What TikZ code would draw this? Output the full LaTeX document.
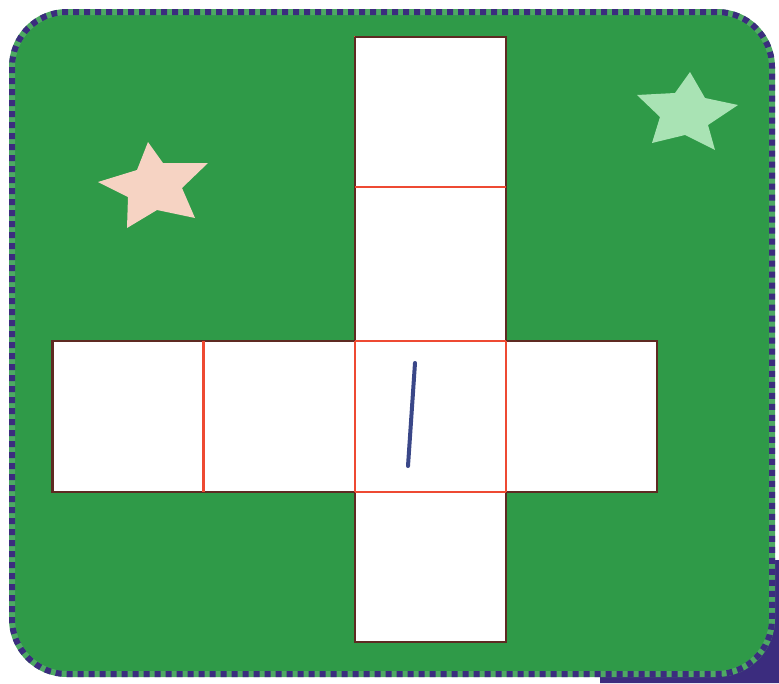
\documentclass[tikz,border=0pt]{standalone}
\usetikzlibrary{calc}
\definecolor{bggreen}{HTML}{2F9A48}
\definecolor{bordpurple}{HTML}{3B2C7E}
\definecolor{starpink}{HTML}{F6D3C3}
\definecolor{starmint}{HTML}{A9E3B4}
\definecolor{gridred}{HTML}{EE4A32}
\definecolor{edgedark}{HTML}{5E2A22}
\definecolor{inkblue}{HTML}{3A4788}
\tikzset{
  cell/.style={rectangle, draw=gridred, fill=white, line width=2.5pt, inner sep=0pt, outer sep=0pt, minimum width=151pt},
  outline/.style={draw=edgedark, line width=2.5pt, line join=miter},
  innerline/.style={draw=gridred, line width=2.5pt},
  frame/.style={line width=6pt, rounded corners=55pt},
}
\begin{document}
\begin{tikzpicture}[x=1pt,y=-1pt]
\useasboundingbox (0,0) rectangle (779,683);
% purple corner bit at bottom right
\fill[bordpurple] (774,560) -- (779,560) -- (779,683) -- (600,683) -- (600,676) -- (700,676) -- (700,620) -- (774,620) -- cycle;
% board
\fill[bggreen, rounded corners=55pt] (12,12) rectangle (772,674);
\draw[frame, draw=bggreen!85!white] (12,12) rectangle (772,674);
\draw[frame, draw=bordpurple, dash pattern=on 6pt off 5pt] (12,12) rectangle (772,674);
% stars
\fill[starpink] (148,142) -- (163,163) -- (208,163) -- (182,188) -- (195,218) -- (157,210) -- (127,228) -- (128,197) -- (98,182) -- (137,170) -- cycle;
\fill[starmint] (690,72) -- (705,98) -- (738,105) -- (708,125) -- (715,150) -- (685,135) -- (652,143) -- (660,117) -- (637,95) -- (675,93) -- cycle;
% cells of the net
\node[cell, minimum height=150pt] (t1) at (430.5,112) {};
\node[cell, minimum height=154pt] (t2) at (430.5,264) {};
\node[cell, minimum height=151pt] (l1) at (128,416.5) {};
\node[cell, minimum height=151pt] (l2) at (279.5,416.5) {};
\node[cell, minimum height=151pt] (c)  at (430.5,416.5) {};
\node[cell, minimum height=151pt] (r)  at (581.5,416.5) {};
\node[cell, minimum height=150pt] (b)  at (430.5,567) {};
% dark outer outline of the net
\draw[outline] (t1.north west) -- (t1.north east) -- (t2.south east) -- (r.north west) -- (r.north east) -- (r.south east) -- (r.south west) -- (b.north east) -- (b.south east) -- (b.south west) -- (b.north west) -- (l1.south east -| l2.south east) -- (l1.south west) -- (l1.north west) -- (l2.north east) -- (t1.north west);
% inner red lines above the outline
\draw[innerline] (t1.south west) -- (t1.south east);
\draw[innerline] (c.north west) -- (c.north east);
\draw[innerline] (c.south west) -- (c.south east);
\draw[innerline] (l1.north east) -- (l1.south east);
\draw[innerline] (c.north west) -- (c.south west);
\draw[innerline] (c.north east) -- (c.south east);
% handwritten mark in the centre cell
\coordinate (m1) at (415,363);
\coordinate (m2) at (408,466);
\draw[inkblue, line width=4pt, line cap=round] (m1) -- (m2);
\end{tikzpicture}
\end{document}
